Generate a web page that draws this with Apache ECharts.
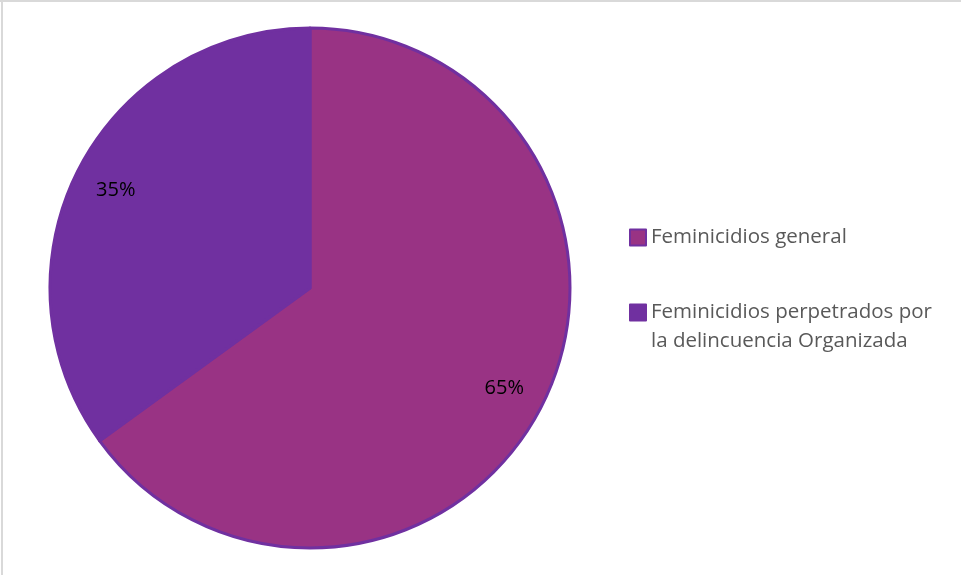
<!DOCTYPE html>
<html><head><meta charset="utf-8">
<script src="https://cdn.jsdelivr.net/npm/echarts@6/dist/echarts.min.js"></script>
<style>html,body{margin:0;padding:0;background:#fff}#c{width:961px;height:575px}</style>
</head><body><div id="c"></div>
<script>
const categories = ['Feminicidios general', 'Feminicidios perpetrados por\nla delincuencia Organizada'];
const values = [65, 35];
const colors = ['#993384', '#7030A0'];

const chart = echarts.init(document.getElementById('c'));
const data = categories.map((n, i) => ({ name: n, value: values[i], itemStyle: { color: colors[i] } }));
chart.setOption({
  animation: false,
  graphic: [
    { type: 'line', shape: { x1: 0, y1: 1, x2: 961, y2: 1 }, style: { stroke: '#d9d9d9', lineWidth: 2 } },
    { type: 'line', shape: { x1: 2, y1: 0, x2: 2, y2: 575 }, style: { stroke: '#d9d9d9', lineWidth: 2 } }
  ],
  legend: {
    orient: 'vertical', left: 624, top: 218, itemWidth: 16, itemHeight: 16, itemGap: 17,
    icon: 'rect',
    textStyle: { color: '#595959', fontSize: 20.5, fontFamily: 'Open Sans', lineHeight: 29 },
    formatter: name => name.indexOf('\n') >= 0 ? '\n' + name : name,
    data: categories
  },
  series: [
    {
      type: 'pie', center: [310, 288], radius: [0, 260], startAngle: 90, clockwise: true,
      itemStyle: { borderColor: '#7030A0', borderWidth: 3 },
      label: { show: false }, labelLine: { show: false }, emphasis: { disabled: true },
      data: data
    },
    {
      type: 'pie', center: [310, 289], radius: [170, 260], startAngle: 90, clockwise: true, silent: true,
      itemStyle: { color: 'rgba(0,0,0,0)', borderWidth: 0 },
      label: { show: true, position: 'inside', formatter: '{d}%', color: '#000', fontSize: 20, fontFamily: 'Open Sans' },
      labelLine: { show: false }, emphasis: { disabled: true },
      legendHoverLink: false,
      data: categories.map((n, i) => ({ name: n + ' ', value: values[i] }))
    }
  ]
});
</script></body></html>
